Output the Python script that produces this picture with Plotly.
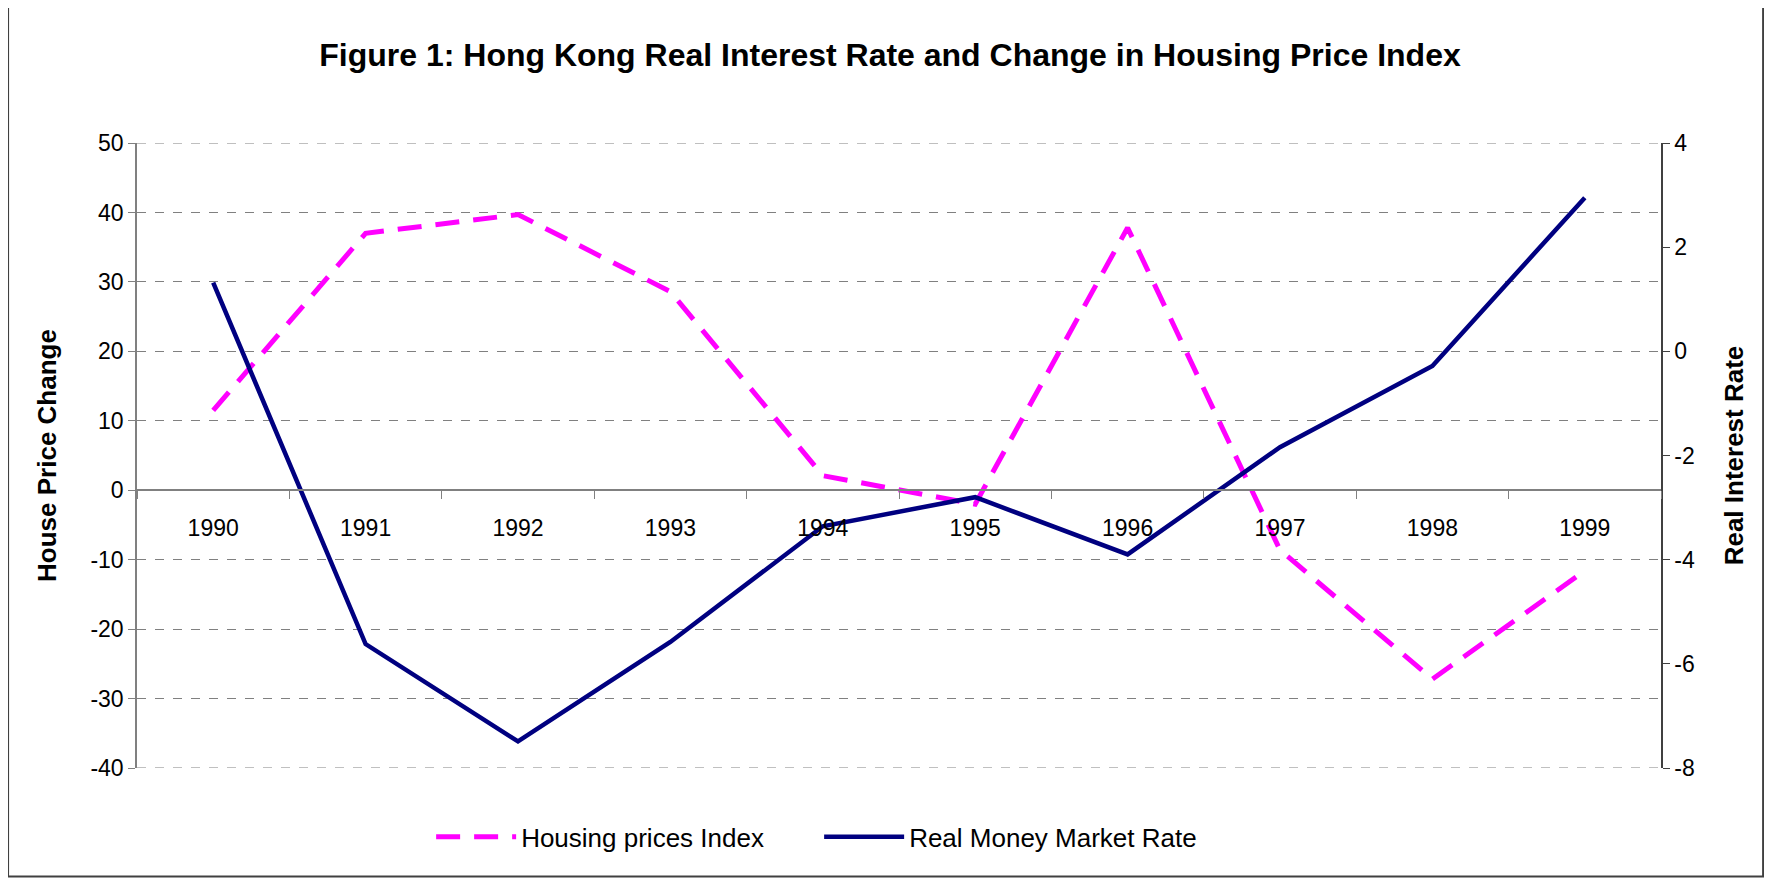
import plotly.graph_objects as go

years = ["1990", "1991", "1992", "1993", "1994", "1995", "1996", "1997", "1998", "1999"]
housing_change = [11.5, 37.0, 39.7, 28.6, 2.1, -2.0, 37.8, -8.6, -27.2, -11.6]
real_rate = [1.32, -5.62, -7.49, -5.58, -3.36, -2.80, -3.90, -1.84, -0.28, 2.95]

left_ticks = [-40, -30, -20, -10, 0, 10, 20, 30, 40, 50]
left_labels = ["-40", "-30", "-20", "-10", "0", "10", "20", "30", "40", "50"]
right_ticks = [-8, -6, -4, -2, 0, 2, 4]
right_labels = ["-8", "-6", "-4", "-2", "0", "2", "4"]

FONT = "Liberation Sans, Arial, sans-serif"

fig = go.Figure()
fig.add_trace(go.Scatter(
    x=years, y=housing_change, name="Housing prices Index", mode="lines",
    line=dict(color="#FF00FF", width=5, dash="24px,14px"), yaxis="y"))
fig.add_trace(go.Scatter(
    x=years, y=real_rate, name="Real Money Market Rate", mode="lines",
    line=dict(color="#000080", width=4.5), yaxis="y2"))

# edge gridlines (plotly drops gridlines lying on the plot edges)
edge_grid = [dict(type="line", xref="paper", yref="y", x0=0, x1=1, y0=v, y1=v,
                  line=dict(color="#808080", width=1, dash="dash"), layer="below")
             for v in (left_ticks[0], left_ticks[-1])]

fig.update_layout(
    width=1764, height=872,
    margin=dict(l=129, r=111, t=135, b=112),
    paper_bgcolor="white", plot_bgcolor="white",
    font=dict(family=FONT, size=23, color="black"),
    title=dict(text="<b>Figure 1: Hong Kong Real Interest Rate and Change in Housing Price Index</b>",
               x=0.5, xanchor="center", y=0.946, yanchor="middle",
               font=dict(family=FONT, size=32, color="black")),
    xaxis=dict(type="category", anchor="free", position=40/90,
               showline=True, linecolor="#808080", linewidth=1.5,
               ticks="outside", ticklen=8, tickcolor="#808080", tickson="boundaries",
               ticklabelstandoff=17, showgrid=False, zeroline=False,
               range=[-0.5, 9.5], tickfont=dict(size=23)),
    yaxis=dict(range=[-40, 50], tickvals=left_ticks, ticktext=left_labels,
               showline=True, linecolor="#808080", linewidth=1.5,
               ticks="outside", ticklen=7, tickcolor="#808080",
               showgrid=True, gridcolor="#808080", griddash="dash", gridwidth=1,
               zeroline=False, tickfont=dict(size=23),
               title=dict(text="<b>House Price Change</b>", font=dict(size=26), standoff=26)),
    yaxis2=dict(range=[-8, 4], tickvals=right_ticks, ticktext=right_labels,
                overlaying="y", side="right",
                showline=True, linecolor="#404040", linewidth=1.5,
                ticks="outside", ticklen=7, tickcolor="#404040",
                showgrid=False, zeroline=False, tickfont=dict(size=23),
                title=dict(text="<b>Real Interest Rate</b>", font=dict(size=26), standoff=31)),
    legend=dict(orientation="h", x=0.193, xanchor="left", y=-0.11, yanchor="middle",
                font=dict(size=26), itemwidth=80, entrywidth=293, entrywidthmode="pixels",
                bgcolor="rgba(0,0,0,0)"),
    showlegend=True,
    shapes=[dict(type="rect", xref="paper", yref="paper",
                 x0=-0.0846, x1=1.067, y0=-0.1736, y1=1.2216,
                 line=dict(color="#404040", width=2), fillcolor="rgba(0,0,0,0)", layer="below")]
           + edge_grid,
)

fig.write_html("out.html")
